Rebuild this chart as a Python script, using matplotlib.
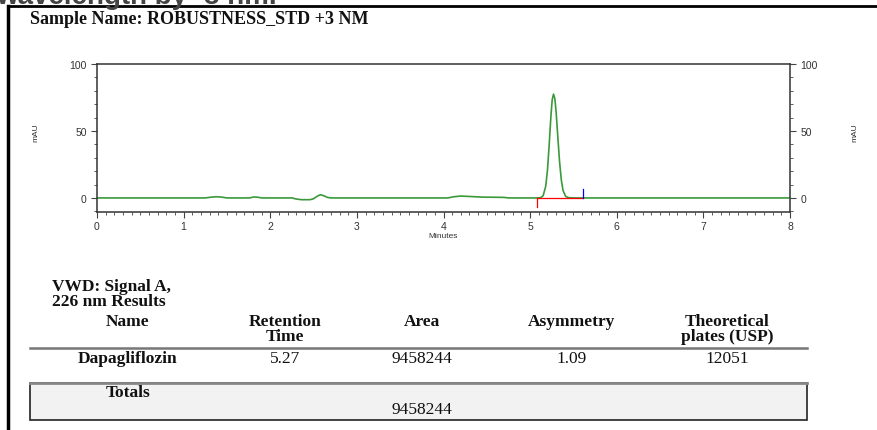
import matplotlib
matplotlib.use("Agg")
import matplotlib.pyplot as plt
from matplotlib.lines import Line2D
from matplotlib.patches import Rectangle
from matplotlib.ticker import MultipleLocator

# chromatogram trace (minutes, mAU)
time_min = [0.0, 1.25, 1.32, 1.38, 1.44, 1.5, 1.76, 1.81, 1.85, 1.9,
            2.25, 2.3, 2.36, 2.46, 2.5, 2.54, 2.58, 2.62, 2.66, 2.7,
            4.05, 4.12, 4.2, 4.3, 4.45, 4.6, 4.7, 4.75,
            5.1, 5.12, 5.15, 5.18, 5.2, 5.22, 5.24, 5.255, 5.27, 5.285,
            5.3, 5.32, 5.34, 5.36, 5.38, 5.41, 5.45, 5.5, 8.0]
signal_mau = [0.0, 0.0, 0.6, 0.9, 0.6, 0.0, 0.0, 0.7, 0.6, 0.0,
              0.0, -0.8, -1.3, -1.3, -0.6, 1.2, 2.4, 1.6, 0.4, 0.0,
              0.0, 0.9, 1.4, 1.1, 0.6, 0.5, 0.4, 0.0,
              0.0, 0.2, 1.6, 8.7, 20.7, 39.7, 61.1, 73.4, 77.5, 74.3,
              64.2, 45.3, 26.9, 13.5, 5.6, 1.1, 0.1, 0.0, 0.0]

peak_start = 5.08
peak_end = 5.61

# results table
col_headers = ["Name", "Retention\nTime", "Area", "Asymmetry", "Theoretical\nplates (USP)"]
row_values = ["Dapagliflozin", "5.27", "9458244", "1.09", "12051"]
total_area = "9458244"

W, H = 878, 431
fig = plt.figure(figsize=(W / 100, H / 100), dpi=100)

def fx(px):
    return px / W

def fy(py):
    return 1 - py / H

serif = ["Liberation Serif", "DejaVu Serif"]
sans = ["Liberation Sans", "DejaVu Sans"]
ink = "#111111"

# cut-off caption from the page above
fig.text(fx(277), fy(3.5), "wavelength by -3 nm.", ha="right", va="baseline",
         fontsize=20, fontweight="bold", family=sans, color="#444444")

# page frame
fig.add_artist(Line2D([fx(8), fx(8)], [fy(7), fy(431)], color="black", lw=2.5))
fig.add_artist(Line2D([fx(8), fx(878)], [fy(7), fy(7)], color="black", lw=2))

fig.text(fx(30), fy(20), "Sample Name: ROBUSTNESS_STD +3 NM", ha="left", va="center",
         fontsize=13, fontweight="bold", family=serif, color=ink)

# chromatogram
ax = fig.add_axes([fx(97), fy(213), fx(790) - fx(97), fy(65) - fy(213)])
ax.plot(time_min, signal_mau, color="#3a9a3a", lw=1.2)
ax.plot([peak_start, peak_end], [0, 0], color="red", lw=0.9)
ax.plot([peak_start, peak_start], [0, -7], color="red", lw=0.9)
ax.plot([peak_end, peak_end], [0, 7], color="blue", lw=0.9)
ax.set_xlim(0, 8)
ax.set_ylim(-10.5, 100)

ax.xaxis.set_major_locator(MultipleLocator(1))
ax.xaxis.set_minor_locator(MultipleLocator(0.1))
ax.yaxis.set_major_locator(MultipleLocator(50))
ax.yaxis.set_minor_locator(MultipleLocator(10))
ax.tick_params(which="both", direction="out", color="#444444", labelsize=7.5,
               labelcolor="#333333", left=True, right=True, labelleft=True, labelright=True)
ax.tick_params(which="major", length=4, width=0.8)
ax.tick_params(which="minor", length=2, width=0.6)
ax.tick_params(axis="x", pad=2.5)
for lab in ax.get_xticklabels() + ax.get_yticklabels():
    lab.set_family(sans)
for s in ax.spines.values():
    s.set_color("#333333")
    s.set_linewidth(1.1)

ax.set_xlabel("Minutes", fontsize=6, family=sans, color="#333333", labelpad=1)
fig.text(fx(36), fy(133), "mAU", rotation=90, ha="center", va="center",
         fontsize=6, family=sans, color="#333333")
fig.text(fx(855), fy(133), "mAU", rotation=90, ha="center", va="center",
         fontsize=6, family=sans, color="#333333")

# results table
fs = 12.5
fig.text(fx(52), fy(287), "VWD: Signal A,", ha="left", va="center",
         fontsize=fs, fontweight="bold", family=serif, color=ink)
fig.text(fx(52), fy(302), "226 nm Results", ha="left", va="center",
         fontsize=fs, fontweight="bold", family=serif, color=ink)

col_x = [128, 285, 422, 572, 727]
for x, h in zip(col_x, col_headers):
    fig.text(fx(x), fy(314), h, ha="center", va="top", fontsize=fs,
             fontweight="bold", family=serif, color=ink, linespacing=0.95)

fig.add_artist(Line2D([fx(30), fx(807)], [fy(349), fy(349)], color="#777777", lw=1.8))

for i, (x, v) in enumerate(zip(col_x, row_values)):
    fig.text(fx(x), fy(359), v, ha="center", va="center", fontsize=fs,
             fontweight="bold" if i == 0 else "normal", family=serif, color=ink)

fig.add_artist(Rectangle((fx(30), fy(421)), fx(807) - fx(30), fy(384) - fy(421),
                         facecolor="#f2f2f2", edgecolor="#222222", lw=1.2))
fig.add_artist(Line2D([fx(30), fx(807)], [fy(384), fy(384)], color="#888888", lw=2))
fig.text(fx(col_x[0]), fy(393), "Totals", ha="center", va="center", fontsize=fs,
         fontweight="bold", family=serif, color=ink)
fig.text(fx(col_x[2]), fy(410), total_area, ha="center", va="center", fontsize=fs,
         family=serif, color=ink)

fig.savefig("out.png", dpi=100)
